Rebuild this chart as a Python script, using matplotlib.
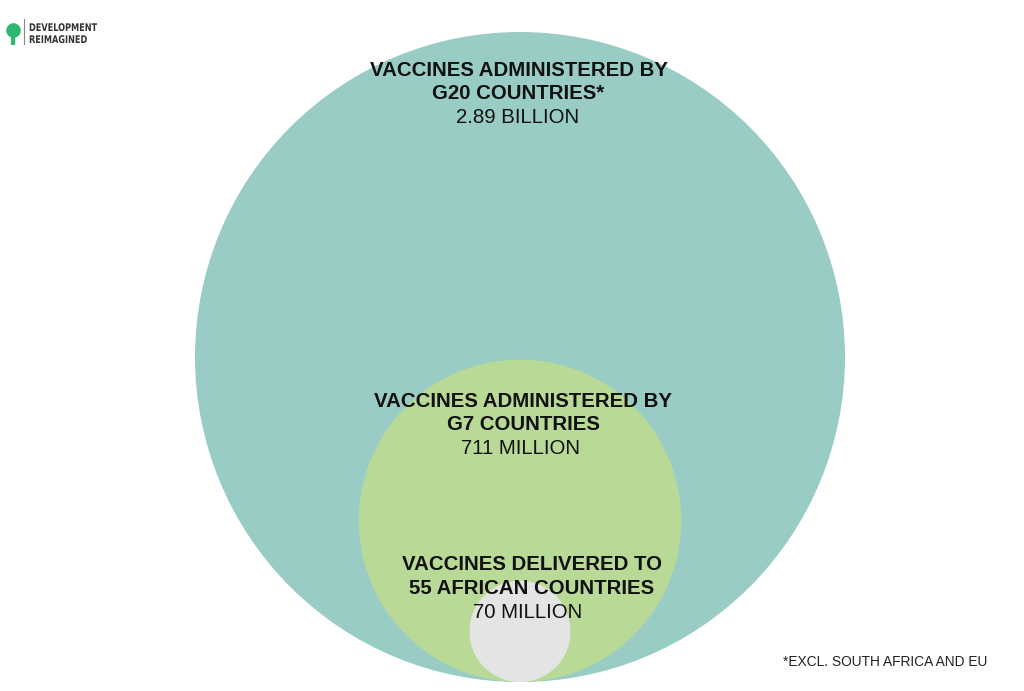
import numpy as np
import matplotlib.pyplot as plt
from matplotlib.patches import Circle, PathPatch
from matplotlib.textpath import TextPath
from matplotlib.font_manager import FontProperties
from matplotlib.transforms import Affine2D

# ---- data ----
label_top = ["VACCINES ADMINISTERED BY", "VACCINES ADMINISTERED BY", "VACCINES DELIVERED TO"]
label_bottom = ["G20 COUNTRIES*", "G7 COUNTRIES", "55 AFRICAN COUNTRIES"]
value_text = ["2.89 BILLION", "711 MILLION", "70 MILLION"]
values = [2890, 711, 70]          # millions of doses
colors = ["#99ccc4", "#b9da97", "#e4e4e4"]

plt.rcParams['font.family'] = ['Liberation Sans', 'DejaVu Sans']

fig = plt.figure(figsize=(10.24, 6.91), dpi=100)
ax = fig.add_axes([0, 0, 1, 1])
ax.set_xlim(0, 1024)
ax.set_ylim(691, 0)
ax.set_aspect('equal')
ax.axis('off')

# area-proportional circles, all resting on the same baseline
cx, base = 520, 682
rmax = 325
radii = [rmax * np.sqrt(v / values[0]) for v in values]
for r, c in zip(radii, colors):
    ax.add_patch(Circle((cx, base - r), r, facecolor=c, edgecolor='none'))

# labels (the original ones are not quite centred)
label_y = [70, 401, 565]
label_x = [518.5, 523.5, 531.5]
value_x = [518, 520.5, 528]
step = 23.8
for t, b, vt, x, vx, y in zip(label_top, label_bottom, value_text, label_x, value_x, label_y):
    ax.text(x, y, t, ha='center', va='center', fontsize=14.7,
            fontweight='bold', color='#111111')
    ax.text(x, y + step, b, ha='center', va='center', fontsize=14.7,
            fontweight='bold', color='#111111')
    ax.text(vx, y + 2 * step, vt, ha='center', va='center', fontsize=14.7,
            color='#111111')

# footnote
ax.text(783, 662, "*EXCL. SOUTH AFRICA AND EU", ha='left', va='center',
        fontsize=9.9, color='#222222')

# logo (rough): bulb icon + squeezed bold text
ax.scatter([13], [30], s=90, color='#2eb872', marker='o', zorder=3)
ax.plot([13, 13], [35, 43], color='#2eb872', lw=3)
ax.plot([24, 24], [19, 44], color='#888888', lw=0.8)
fp = FontProperties(family='DejaVu Sans', weight='bold')
for word, yb in [("DEVELOPMENT", 31), ("REIMAGINED", 43)]:
    tp = TextPath((0, 0), word, size=12, prop=fp)
    tr = Affine2D().scale(0.68, -0.88).translate(29, yb)
    ax.add_patch(PathPatch(tr.transform_path(tp), facecolor='#333333',
                           edgecolor='none'))

fig.savefig("out.png", dpi=100)
